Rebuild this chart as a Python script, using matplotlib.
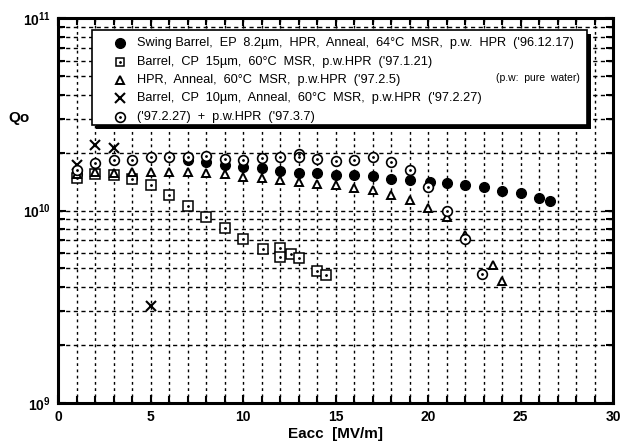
import numpy as np
import matplotlib.pyplot as plt
from matplotlib.patches import Rectangle
from matplotlib.ticker import LogLocator, MultipleLocator, NullFormatter

plt.rcParams['font.family'] = ['Liberation Sans', 'DejaVu Sans']

# Swing Barrel, EP 8.2um ('96.12.17)  - filled circles
swing_x = [1, 4, 7, 8, 9, 10, 11, 12, 13, 14, 15, 16, 17, 18, 19, 20.1, 21, 22, 23, 24, 25, 26, 26.6]
swing_q = [1.55e10, 1.48e10, 1.84e10, 1.78e10, 1.72e10, 1.69e10, 1.66e10, 1.61e10, 1.57e10, 1.56e10,
           1.53e10, 1.52e10, 1.51e10, 1.46e10, 1.44e10, 1.40e10, 1.39e10, 1.36e10, 1.32e10, 1.27e10,
           1.23e10, 1.16e10, 1.12e10]

# Barrel, CP 15um ('97.1.21)  - open squares
cp15_x = [1, 2, 3, 4, 5, 6, 7, 8, 9, 10, 11.1, 12, 12, 12.6, 13, 14, 14.5]
cp15_q = [1.48e10, 1.55e10, 1.53e10, 1.45e10, 1.35e10, 1.21e10, 1.06e10, 9.2e9, 8.1e9, 7.1e9,
          6.3e9, 6.4e9, 5.7e9, 5.95e9, 5.66e9, 4.83e9, 4.65e9]

# HPR, Anneal ('97.2.5)  - open triangles
hpr_x = [1, 2, 3, 4, 5, 6, 7, 8, 9, 10, 11, 12, 13, 14, 15, 16, 17, 18, 19, 20, 21, 22, 23.5, 24]
hpr_q = [1.55e10, 1.58e10, 1.57e10, 1.59e10, 1.58e10, 1.58e10, 1.58e10, 1.56e10, 1.54e10, 1.50e10,
         1.47e10, 1.44e10, 1.40e10, 1.37e10, 1.35e10, 1.31e10, 1.28e10, 1.20e10, 1.14e10, 1.03e10,
         9.2e9, 7.5e9, 5.19e9, 4.32e9]

# Barrel, CP 10um ('97.2.27)  - crosses
cp10_x = [1, 2, 3, 5]
cp10_q = [1.72e10, 2.2e10, 2.1e10, 3.18e9]

# ('97.2.27) + p.w.HPR ('97.3.7)  - open circles
pw_x = [1, 2, 3, 4, 5, 6, 7, 8, 9, 10, 11, 12, 13, 13, 14, 15, 16, 17, 18, 19, 20, 21, 22, 22.9]
pw_q = [1.63e10, 1.77e10, 1.83e10, 1.84e10, 1.90e10, 1.90e10, 1.89e10, 1.93e10, 1.85e10, 1.83e10,
        1.88e10, 1.90e10, 1.96e10, 1.90e10, 1.86e10, 1.81e10, 1.82e10, 1.90e10, 1.78e10, 1.62e10,
        1.33e10, 0.99e10, 7.1e9, 4.68e9]

labels = [
    "Swing Barrel,  EP  8.2\u00b5m,  HPR,  Anneal,  64\u00b0C  MSR,  p.w.  HPR  ('96.12.17)",
    "Barrel,  CP  15\u00b5m,  60\u00b0C  MSR,  p.w.HPR  ('97.1.21)",
    "HPR,  Anneal,  60\u00b0C  MSR,  p.w.HPR  ('97.2.5)",
    "Barrel,  CP  10\u00b5m,  Anneal,  60\u00b0C  MSR,  p.w.HPR  ('97.2.27)",
    "('97.2.27)  +  p.w.HPR  ('97.3.7)",
]

W, H = 622, 442
AX_L, AX_R, AX_T, AX_B = 58, 613, 18, 403

fig = plt.figure(figsize=(W / 100, H / 100), dpi=100)
ax = fig.add_axes([AX_L / W, 1 - AX_B / H, (AX_R - AX_L) / W, (AX_B - AX_T) / H])
ax.set_yscale('log')
ax.set_xlim(0, 30)
ax.set_ylim(1e9, 1e11)

ms = 7
ax.plot(swing_x, swing_q, 'o', ms=ms, mfc='black', mec='black', zorder=3)
ax.plot(cp15_x, cp15_q, 's', ms=ms, mfc='white', mec='black', mew=1.1, zorder=4)
ax.plot(cp15_x, cp15_q, '.', ms=2, color='black', zorder=4)
ax.plot(hpr_x, hpr_q, '^', ms=ms - 1, mfc='white', mec='black', mew=1.4, zorder=5)
ax.plot(cp10_x, cp10_q, 'x', ms=ms, color='black', mew=1.5, zorder=6)
ax.plot(pw_x, pw_q, 'o', ms=ms, mfc='white', mec='black', mew=1.2, zorder=6)
ax.plot(pw_x, pw_q, '.', ms=2, color='black', zorder=6)

# grid and ticks
ax.xaxis.set_major_locator(MultipleLocator(5))
ax.xaxis.set_minor_locator(MultipleLocator(1))
ax.yaxis.set_minor_locator(LogLocator(base=10, subs=np.arange(2, 10)))
ax.yaxis.set_minor_formatter(NullFormatter())
ax.grid(True, which='both', axis='x', color='black', lw=1.0, ls=(0, (2, 2.5)))
ax.grid(True, which='both', axis='y', color='black', lw=1.0, ls=(0, (3, 2.5)))
ax.tick_params(which='both', direction='in', top=True, right=True, width=1.5)
ax.tick_params(which='major', length=6, labelsize=10, pad=5)
ax.tick_params(which='minor', length=5)
for lab in ax.get_xticklabels() + ax.get_yticklabels():
    lab.set_fontweight('bold')
for sp in ax.spines.values():
    sp.set_linewidth(2.2)

ax.set_xlabel('Eacc  [MV/m]', fontsize=11, fontweight='bold', labelpad=2)
ax.text(-0.07, 0.74, 'Qo', transform=ax.transAxes, fontsize=11, fontweight='bold',
        ha='center', va='center')


# legend box drawn by hand, positions in pixels converted to axes fractions
def fx(px):
    return (px - AX_L) / (AX_R - AX_L)


def fy(py):
    return (AX_B - py) / (AX_B - AX_T)


box_l, box_r, box_t, box_b = 92, 587, 30, 125
sh = 3.5
ax.add_patch(Rectangle((fx(box_l + sh), fy(box_b + sh)), fx(box_r) - fx(box_l), fy(box_t) - fy(box_b),
                       transform=ax.transAxes, facecolor='black', edgecolor='none', zorder=9))
ax.add_patch(Rectangle((fx(box_l), fy(box_b)), fx(box_r) - fx(box_l), fy(box_t) - fy(box_b),
                       transform=ax.transAxes, facecolor='white', edgecolor='black', lw=1.2, zorder=10))

styles = [
    dict(marker='o', ms=ms, mfc='black', mec='black'),
    dict(marker='s', ms=ms - 1, mfc='white', mec='black', mew=1.1),
    dict(marker='^', ms=ms - 1, mfc='white', mec='black', mew=1.4),
    dict(marker='x', ms=ms, color='black', mew=1.5),
    dict(marker='o', ms=ms, mfc='white', mec='black', mew=1.2),
]
rows = [43, 62, 80, 98, 117]
for py, label, st in zip(rows, labels, styles):
    ax.plot([fx(120)], [fy(py)], ls='none', transform=ax.transAxes, clip_on=False, zorder=11, **st)
    ax.text(fx(137), fy(py), label, transform=ax.transAxes, fontsize=9.2, ha='left', va='center',
            zorder=11)
ax.plot([fx(120)], [fy(rows[1])], '.', ms=2, color='black', transform=ax.transAxes, zorder=12)
ax.plot([fx(120)], [fy(rows[4])], '.', ms=2, color='black', transform=ax.transAxes, zorder=12)
ax.text(fx(580), fy(78), '(p.w:  pure  water)', transform=ax.transAxes, fontsize=7.5,
        ha='right', va='center', zorder=11)

fig.savefig('out.png', dpi=100)
